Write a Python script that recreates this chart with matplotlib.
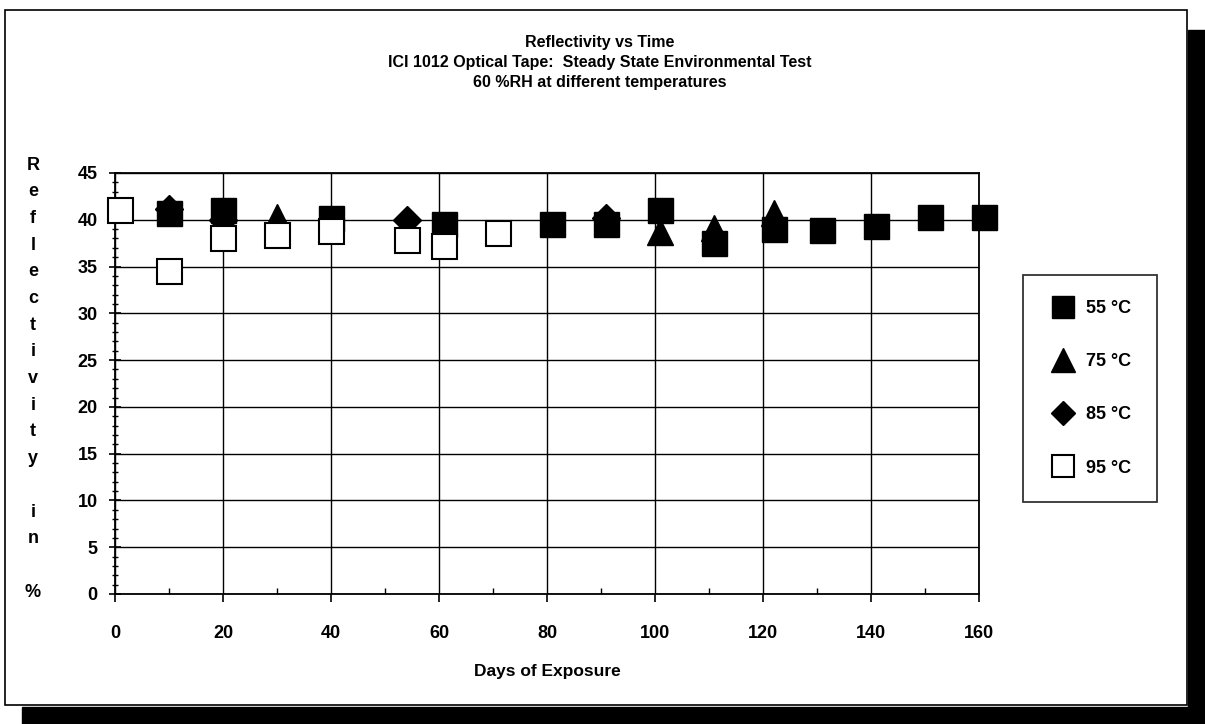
import matplotlib
matplotlib.use("Agg")
import matplotlib.pyplot as plt
from matplotlib.patches import Rectangle
from matplotlib.ticker import MultipleLocator

plt.rcParams['font.family'] = ['Liberation Sans', 'DejaVu Sans']
plt.rcParams['font.weight'] = 'bold'

# data (days of exposure, reflectivity %)
days_55 = [10, 20, 40, 61, 81, 91, 101, 111, 122, 131, 141, 151, 161]
refl_55 = [40.7, 41.0, 40.2, 39.5, 39.5, 39.5, 41.0, 37.5, 39.0, 38.9, 39.3, 40.3, 40.3]
days_75 = [30, 101, 111, 122]
refl_75 = [40.3, 38.7, 39.1, 40.7]
days_85 = [10, 20, 54, 91]
refl_85 = [41.2, 40.0, 40.0, 40.2]
days_95 = [1, 10, 20, 30, 40, 54, 61, 71]
refl_95 = [41.0, 34.5, 38.0, 38.4, 38.8, 37.8, 37.2, 38.6]

title_lines = ["Reflectivity vs Time",
               "ICI 1012 Optical Tape:  Steady State Environmental Test",
               "60 %RH at different temperatures"]
ylabel_chars = list("Reflectivity") + [" "] + list("in") + [" ", "%"]

W, H = 1205, 724
fig = plt.figure(figsize=(W / 100, H / 100), dpi=100)

# page frame + drop shadow of the scan (behind the axes)
fig.patches.append(Rectangle((22 / W, 0), 1 - 22 / W, 17 / H, transform=fig.transFigure,
                             color="black", zorder=-3))
fig.patches.append(Rectangle((1188 / W, 0), 17 / W, 1 - 30 / H, transform=fig.transFigure,
                             color="black", zorder=-3))
fig.patches.append(Rectangle((5 / W, 1 - 705 / H), 1182 / W, 695 / H, transform=fig.transFigure,
                             facecolor="white", edgecolor="black", lw=1.2, zorder=-2))

ax = fig.add_axes([115 / W, 1 - 594 / H, 864 / W, 421 / H])
ax.set_xlim(0, 160)
ax.set_ylim(0, 45)
ax.xaxis.set_major_locator(MultipleLocator(20))
ax.xaxis.set_minor_locator(MultipleLocator(10))
ax.yaxis.set_major_locator(MultipleLocator(5))
ax.yaxis.set_minor_locator(MultipleLocator(1))
ax.set_axisbelow(True)
ax.grid(True, which="major", color="black", lw=1.0)
for s in ax.spines.values():
    s.set_linewidth(1.3)
ax.tick_params(axis="y", which="major", direction="inout", length=9, width=1.2,
               labelsize=13, pad=8)
ax.tick_params(axis="y", which="minor", direction="inout", length=5, width=1)
ax.tick_params(axis="x", which="major", direction="out", length=6, width=1.2,
               labelsize=13, pad=16)
ax.tick_params(axis="x", which="minor", direction="in", length=4, width=1)
for lab in ax.get_xticklabels() + ax.get_yticklabels():
    lab.set_fontweight("bold")
ax.set_xlabel("Days of Exposure", fontsize=12.5, fontweight="bold", labelpad=16)

kw = dict(ls="none", markeredgecolor="black", clip_on=False)
ax.plot(days_55, refl_55, marker="s", ms=18, color="black", label="55 \u00b0C", zorder=3, **kw)
ax.plot(days_75, refl_75, marker="^", ms=19, color="black", label="75 \u00b0C", zorder=4, **kw)
ax.plot(days_85, refl_85, marker="D", ms=14, color="black", label="85 \u00b0C", zorder=5, **kw)
ax.plot(days_95, refl_95, marker="s", ms=18, markerfacecolor="white", mew=1.5,
        label="95 \u00b0C", zorder=6, **kw)

leg = ax.legend(loc="upper left", bbox_to_anchor=(1023 / W, 1 - 275 / H),
                bbox_transform=fig.transFigure, borderaxespad=0, frameon=True,
                fancybox=False, edgecolor="black", labelspacing=2.0,
                borderpad=1.4, handlelength=1.6, handletextpad=0.5, markerscale=0.9,
                prop={"weight": "bold", "size": 13})
leg.get_frame().set_linewidth(1.3)

for i, line in enumerate(title_lines):
    fig.text(600 / W, 1 - (42 + 20 * i) / H, line, ha="center", va="center",
             fontsize=11.5, fontweight="bold")

for i, ch in enumerate(ylabel_chars):
    fig.text(33 / W, 1 - (165 + 26.7 * i) / H, ch, ha="center", va="center",
             fontsize=13, fontweight="bold")

fig.savefig("out.png", dpi=100)
